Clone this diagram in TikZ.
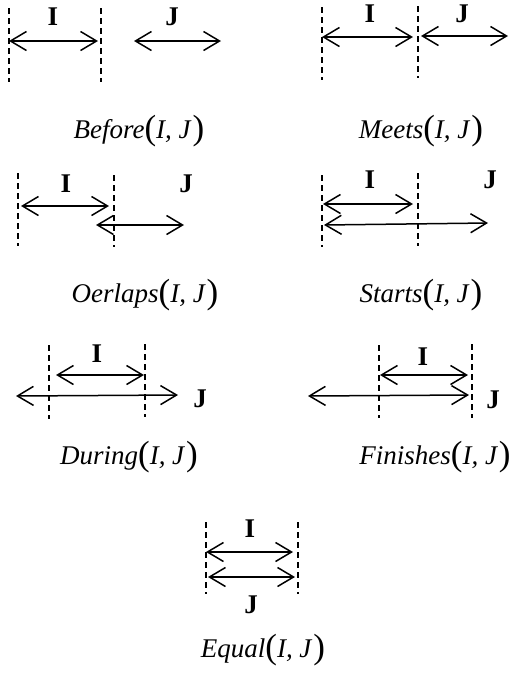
\documentclass[tikz,border=0pt]{standalone}
\usepackage{fontspec}
\setmainfont{Liberation Serif}
\usetikzlibrary{arrows.meta}
\newcommand{\bpar}[1]{{\fontsize{35}{35}\selectfont\upshape\raisebox{-1pt}{#1}}}
\newcommand{\relcap}[1]{{\fontsize{27}{27}\selectfont\itshape #1\bpar{(}I,\ J\kern2pt\bpar{)}}}
\tikzset{
  x=1pt, y=-1pt,
  >={Straight Barb[length=16pt,width=19pt]},
  interval/.style={<->, line width=1.5pt},
  bound/.style={line width=1.2pt, dash pattern=on 6pt off 4pt},
  lbl/.style={anchor=base, inner sep=0pt, font=\fontsize{27}{27}\selectfont\bfseries},
  capt/.style={anchor=base, inner sep=0pt},
}
\begin{document}
\begin{tikzpicture}
\useasboundingbox (0,0) rectangle (510,673);
% ---- Before
\coordinate (b1t) at (9,8);   \coordinate (b1b) at (9,82);
\coordinate (b2t) at (101,8); \coordinate (b2b) at (101,82);
\coordinate (bI1) at (9,41);  \coordinate (bI2) at (98,41);
\coordinate (bJ1) at (134,41);\coordinate (bJ2) at (221,41);
\draw[bound] (b1t) -- (b1b); \draw[bound] (b2t) -- (b2b);
\draw[interval] (bI1) -- (bI2); \draw[interval] (bJ1) -- (bJ2);
\node[lbl] (bIl) at (53,25) {I};
\node[lbl] (bJl) at (172,25) {J};
\node[capt] (bcap) at (139,138) {\relcap{Before}};
% ---- Meets
\coordinate (m1t) at (322,7);  \coordinate (m1b) at (322,80);
\coordinate (m2t) at (418,6);  \coordinate (m2b) at (418,78);
\coordinate (mI1) at (322,37); \coordinate (mI2) at (413,37);
\coordinate (mJ1) at (421,36); \coordinate (mJ2) at (508,36);
\draw[bound] (m1t) -- (m1b); \draw[bound] (m2t) -- (m2b);
\draw[interval] (mI1) -- (mI2); \draw[interval] (mJ1) -- (mJ2);
\node[lbl] (mIl) at (370,22) {I};
\node[lbl] (mJl) at (462,22) {J};
\node[capt] (mcap) at (421,138) {\relcap{Meets}};
% ---- Overlaps
\coordinate (o1t) at (18,173);  \coordinate (o1b) at (18,246);
\coordinate (o2t) at (114,175); \coordinate (o2b) at (114,247);
\coordinate (oI1) at (21,206);  \coordinate (oI2) at (109,206);
\coordinate (oJ1) at (96,225);  \coordinate (oJ2) at (184,225);
\draw[bound] (o1t) -- (o1b); \draw[bound] (o2t) -- (o2b);
\draw[interval] (oI1) -- (oI2); \draw[interval] (oJ1) -- (oJ2);
\node[lbl] (oIl) at (66,192) {I};
\node[lbl] (oJl) at (186,192) {J};
\node[capt] (ocap) at (145,302) {\relcap{Oerlaps}};
% ---- Starts
\coordinate (s1t) at (322,175); \coordinate (s1b) at (322,247);
\coordinate (s2t) at (418,173); \coordinate (s2b) at (418,246);
\coordinate (sI1) at (323,204); \coordinate (sI2) at (413,204);
\coordinate (sJ1) at (324,225); \coordinate (sJ2) at (488,223);
\draw[bound] (s1t) -- (s1b); \draw[bound] (s2t) -- (s2b);
\draw[interval] (sI1) -- (sI2); \draw[interval] (sJ1) -- (sJ2);
\node[lbl] (sIl) at (370,188) {I};
\node[lbl] (sJl) at (490,188) {J};
\node[capt] (scap) at (421,302) {\relcap{Starts}};
% ---- During
\coordinate (d1t) at (49,345);  \coordinate (d1b) at (49,419);
\coordinate (d2t) at (145,344); \coordinate (d2b) at (145,417);
\coordinate (dI1) at (56,375);  \coordinate (dI2) at (144,375);
\coordinate (dJ1) at (16,396);  \coordinate (dJ2) at (178,395);
\draw[bound] (d1t) -- (d1b); \draw[bound] (d2t) -- (d2b);
\draw[interval] (dI1) -- (dI2); \draw[interval] (dJ1) -- (dJ2);
\node[lbl] (dIl) at (97,362) {I};
\node[lbl] (dJl) at (200,407) {J};
\node[capt] (dcap) at (129,464) {\relcap{During}};
% ---- Finishes
\coordinate (f1t) at (379,345); \coordinate (f1b) at (379,418);
\coordinate (f2t) at (472,344); \coordinate (f2b) at (472,418);
\coordinate (fI1) at (380,375); \coordinate (fI2) at (468,375);
\coordinate (fJ1) at (308,396); \coordinate (fJ2) at (469,395);
\draw[bound] (f1t) -- (f1b); \draw[bound] (f2t) -- (f2b);
\draw[interval] (fI1) -- (fI2); \draw[interval] (fJ1) -- (fJ2);
\node[lbl] (fIl) at (423,365) {I};
\node[lbl] (fJl) at (493,408) {J};
\node[capt] (fcap) at (435,464) {\relcap{Finishes}};
% ---- Equal
\coordinate (e1t) at (206,522); \coordinate (e1b) at (206,594);
\coordinate (e2t) at (298,522); \coordinate (e2b) at (298,594);
\coordinate (eI1) at (206,552); \coordinate (eI2) at (293,552);
\coordinate (eJ1) at (208,577); \coordinate (eJ2) at (295,577);
\draw[bound] (e1t) -- (e1b); \draw[bound] (e2t) -- (e2b);
\draw[interval] (eI1) -- (eI2); \draw[interval] (eJ1) -- (eJ2);
\node[lbl] (eIl) at (250,537) {I};
\node[lbl] (eJl) at (251,613) {J};
\node[capt] (ecap) at (263,657) {\relcap{Equal}};
\end{tikzpicture}
\end{document}
